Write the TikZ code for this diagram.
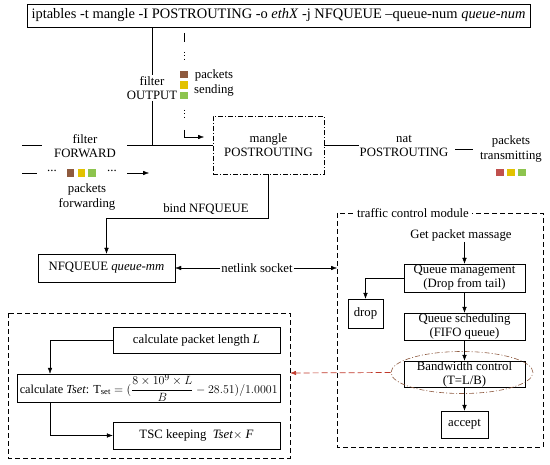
\documentclass[tikz,border=0pt]{standalone}
\usepackage{fontspec}
\setmainfont{Liberation Serif}
\usetikzlibrary{arrows.meta,shapes.geometric,calc}
\definecolor{sqbrown}{HTML}{8E5A3E}
\definecolor{sqyellow}{HTML}{E2C200}
\definecolor{sqgreen}{HTML}{8DC44E}
\definecolor{sqred}{HTML}{C0504D}
\definecolor{ellbrown}{HTML}{8E5A40}
\definecolor{reddash}{HTML}{C0392B}
\begin{document}
\begin{tikzpicture}[x=1bp,y=-1bp,
  font=\fontsize{12.8}{14}\selectfont,
  box/.style={draw,thin,inner sep=0pt,align=center},
  lbl/.style={inner sep=1pt,align=center,font=\fontsize{12.8}{14.5}\selectfont},
  arr/.style={-{Latex[length=6bp,width=4.5bp]},thin},
  ln/.style={thin},
  dsh/.style={thin,dash pattern=on 5bp off 3bp},
  sq/.style={minimum size=7.5bp,inner sep=0pt}]
\useasboundingbox (0,0) rectangle (550,465);

% top command box
\node[box,minimum width=503bp,minimum height=23bp,font=\fontsize{14.5}{16}\selectfont] (top) at (278.5,15.5)
  {iptables -t mangle -I POSTROUTING -o \textit{ethX} -j NFQUEUE –queue-num \textit{queue-num}};

% mangle POSTROUTING
\node[box,dash pattern=on 5bp off 2bp on 1bp off 2bp,minimum width=111bp,minimum height=58bp] (mangle) at (268.5,145) {mangle\\POSTROUTING};

% filter OUTPUT
\node[lbl] (fout) at (152,88) {filter\\OUTPUT};
\draw[ln] (top.south -| fout) -- (fout.north);
\coordinate (fj) at (fout.south |- mangle.west);
\draw[ln] (fout.south) -- (fj);

% filter FORWARD
\node[lbl] (ffwd) at (85,146) {filter\\FORWARD};
\coordinate (fl1) at (22,145);
\coordinate (fl2) at (42,145);
\coordinate (fl3) at (127,145);
\draw[ln] (fl1) -- (fl2);
\draw[ln] (fl3) -- (mangle.west);

% packets sending column
\node[sq,fill=sqbrown] (s1) at (184,74.5) {};
\node[sq,fill=sqyellow] (s2) at (184,85) {};
\node[sq,fill=sqgreen] (s3) at (184,95.5) {};
\node[lbl,anchor=west] (psend) at (193,83) {packets\\sending};
\coordinate (c1) at (184,33);
\coordinate (c2) at (184,42);
\coordinate (c3) at (184,52);
\coordinate (c4) at (184,61);
\coordinate (c5) at (184,110);
\coordinate (c6) at (184,119);
\coordinate (c7) at (184,130);
\coordinate (c8) at (184,137);
\coordinate (c9) at (204,137);
\draw[ln] (c1) -- (c2);
\draw[ln,dash pattern=on 0.8bp off 2.5bp] (c3) -- (c4);
\draw[ln,dash pattern=on 0.8bp off 2.5bp] (c5) -- (c6);
\draw[arr] (c7) -- (c8) -- (c9);

% packets forwarding row
\coordinate (r1) at (22,173);
\coordinate (r2) at (37,173);
\coordinate (r3) at (127,173);
\coordinate (r4) at (149,173);
\draw[ln] (r1) -- (r2);
\node[lbl] (dd1) at (52,171) {...};
\node[sq,fill=sqbrown] (f1) at (70.5,173) {};
\node[sq,fill=sqyellow] (f2) at (81.5,173) {};
\node[sq,fill=sqgreen] (f3) at (92,173) {};
\node[lbl] (dd2) at (112,171) {...};
\draw[arr] (r3) -- (r4);
\node[lbl] (pfwd) at (87,197) {packets\\forwarding};

% nat POSTROUTING
\node[lbl] (nat) at (404,146) {nat\\POSTROUTING};
\draw[ln] (mangle.east) -- (nat.west |- mangle.east);
\coordinate (n1) at (455,149);
\coordinate (n2) at (473,149);
\draw[ln] (n1) -- (n2);
\node[lbl] (ptx) at (511,149) {packets\\transmitting};
\node[sq,fill=sqred] (t1) at (500,172.5) {};
\node[sq,fill=sqyellow] (t2) at (511,172.5) {};
\node[sq,fill=sqgreen] (t3) at (522,172.5) {};

% NFQUEUE
\node[box,minimum width=137bp,minimum height=28bp] (nfq) at (106.5,268) {NFQUEUE \textit{queue-mm}};
\coordinate (b1) at (mangle.south |- 0,218);
\coordinate (b2) at (nfq.north |- 0,218);
\draw[arr] (mangle.south) -- (b1) -- (b2) -- (nfq.north);
\node[lbl] (bind) at (206,209) {bind NFQUEUE};

% netlink socket
\node[lbl] (nl) at (257,268) {netlink socket};
\coordinate (tcmW) at (337,268);
\draw[arr] (nl.west) -- (nfq.east);
\draw[arr] (nl.east) -- (tcmW);

% traffic control module
\coordinate (tcm1) at (337,213);
\coordinate (tcm2) at (543,447);
\draw[dsh] (tcm1) rectangle (tcm2);
\node[lbl,fill=white,inner sep=3pt] (tcml) at (413,213) {traffic control module};
\node[lbl] (get) at (461,235) {Get packet massage};
\node[box,minimum width=121bp,minimum height=28bp] (qm) at (464.5,278) {Queue management\\(Drop from tail)};
\node[box,minimum width=35bp,minimum height=29bp] (drop) at (365.5,313.5) {drop};
\node[box,minimum width=121bp,minimum height=27bp] (qs) at (464.5,326.5) {Queue scheduling\\(FIFO queue)};
\node[box,minimum width=121bp,minimum height=26bp] (bc) at (464.5,374) {Bandwidth control\\(T=L/B)};
\node[box,minimum width=47bp,minimum height=27bp] (acc) at (464.5,424.5) {accept};
\node[draw=ellbrown,line width=0.6bp,dash pattern=on 5bp off 2bp on 1bp off 2bp,ellipse,minimum width=142bp,minimum height=42bp] (ell) at (462,372.5) {};
\draw[arr] (get.south -| qm.north) -- (qm.north);
\coordinate (dj) at (drop.north |- qm.west);
\draw[arr] (qm.west) -- (dj) -- (drop.north);
\draw[arr] (qm.south) -- (qs.north);
\draw[arr] (qs.south) -- (bc.north);
\draw[arr] (bc.south) -- (acc.north);

% left calculation module
\coordinate (lm1) at (8,313);
\coordinate (lm2) at (290,458);
\draw[dsh] (lm1) rectangle (lm2);
\node[box,minimum width=167bp,minimum height=26bp] (cpl) at (196.5,340) {calculate packet length \textit{L}};
\node[box,minimum width=263bp,minimum height=28bp,anchor=west,font=\fontsize{12.3}{14}\selectfont] (cts) at (17,388)
  {calculate \textit{Tset}: $\mathrm{T}_{\mathrm{set}} = (\displaystyle\frac{8\times 10^{9}\times L}{B} - 28.51)/1.0001$};
\node[box,minimum width=167bp,minimum height=27bp] (tsc) at (196.5,435.5) {TSC keeping\ \ \textit{Tset}$\times$ \textit{F}};
\coordinate (k1) at (50,340);
\coordinate (k2) at (50,435.5);
\draw[arr] (cpl.west) -- (k1) -- (k1 |- cts.north);
\draw[arr] (k1 |- cts.south) -- (k2) -- (tsc.west);

% red dashed link
\coordinate (rl) at (290,373);
\draw[reddash,line width=0.7bp,dash pattern=on 6bp off 3bp,-{Latex[length=6bp,width=4.5bp]}] (ell.west) -- (rl);
\end{tikzpicture}
\end{document}
